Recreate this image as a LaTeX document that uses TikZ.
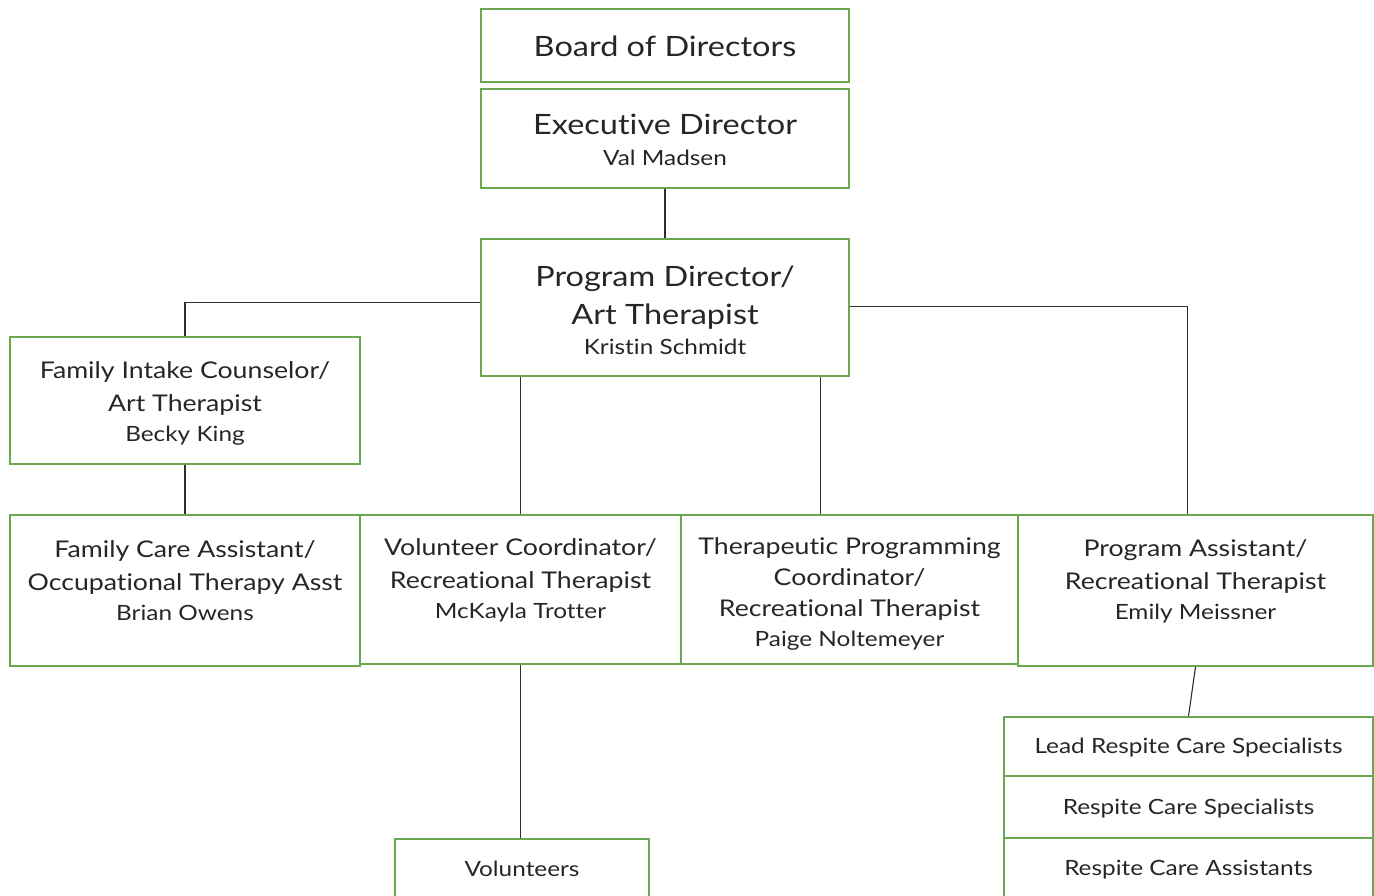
\documentclass[tikz,border=0pt]{standalone}
\usepackage{fontspec}
\setmainfont{Lato}[FakeStretch=1.16, Ligatures={NoCommon}]
\definecolor{boxgreen}{RGB}{106,168,79}
\definecolor{linegray}{RGB}{45,45,45}
\newcommand\bigtxt{\fontsize{28}{38}\selectfont}
\newcommand\midtxt{\fontsize{23}{33}\selectfont}
\newcommand\smalltxt{\fontsize{21}{30}\selectfont}

\tikzset{
  every node/.style={text=black!85, align=center, inner sep=0pt},
  box/.style={draw=boxgreen, line width=1.6pt},
  link/.style={draw=linegray, line width=1.1pt}
}

\begin{document}
\begin{tikzpicture}[x=1pt,y=-1pt]
      \useasboundingbox (0,0) rectangle (1374,896);
      \clip (0,0) rectangle (1374,896);

      % boxes
      \node [box, minimum width=368, minimum height=73] (board) at (665,45.5) {};
      \node [box, minimum width=368, minimum height=99] (exec) at (665,138.5) {};
      \node [box, minimum width=368, minimum height=137] (prog) at (665,307.5) {};
      \node [box, minimum width=350, minimum height=127] (intake) at (185,400.5) {};
      \node [box, minimum width=350, minimum height=151] (famcare) at (185,590.5) {};
      \node [box, minimum width=321, minimum height=149] (volco) at (520.5,589.5) {};
      \node [box, minimum width=337, minimum height=149] (thera) at (849.5,589.5) {};
      \node [box, minimum width=355, minimum height=151] (progas) at (1195.5,590.5) {};
      \node [box, minimum width=254, minimum height=61] (vols) at (522,869.5) {};
      \node [box, minimum width=369, minimum height=59] (lead) at (1188.5,746.5) {};
      \node [box, minimum width=369, minimum height=62] (spec) at (1188.5,807) {};
      \node [box, minimum width=369, minimum height=62] (assist) at (1188.5,869) {};

      % texts
      \node [font=\bigtxt] (boardT) at (665,46) {Board of Directors};
      \node [font=\bigtxt] (execT) at (665,140) {Executive Director\\[-7pt] \smalltxt Val Madsen};
      \node [font=\bigtxt] (progT) at (665,310.5) {Program Director/\\ Art Therapist\\[-8pt] \smalltxt Kristin Schmidt};
      \node [font=\midtxt] (intakeT) at (185,403) {Family Intake Counselor/\\ Art Therapist\\[-3pt] \smalltxt Becky King};
      \node [font=\midtxt] (famcareT) at (185,580.5) {Family Care Assistant/\\ Occupational Therapy Asst\\[-3pt] \smalltxt Brian Owens};
      \node [font=\midtxt] (volcoT) at (520.5,580.5) {Volunteer Coordinator/\\ Recreational Therapist\\[-3pt] \smalltxt McKayla Trotter};
      \node [font=\midtxt] (theraT) at (849.5,594) {Therapeutic Programming\\[-2pt] Coordinator/\\[-2pt] Recreational Therapist\\[-3pt] \smalltxt Paige Noltemeyer};
      \node [font=\midtxt] (progasT) at (1195.5,581) {Program Assistant/\\ Recreational Therapist\\[-3pt] \smalltxt Emily Meissner};
      \node [font=\smalltxt] (volsT) at (522,869) {Volunteers};
      \node [font=\smalltxt] (leadT) at (1188.5,748) {Lead Respite Care Specialists};
      \node [font=\smalltxt] (specT) at (1188.5,808.5) {Respite Care Specialists};
      \node [font=\smalltxt] (assistT) at (1188.5,869.5) {Respite Care Assistants};

      % connectors
      \draw [link] (exec.south) -- (prog.north);
      \draw [link] ([yshift=5]prog.west) -| (intake.north);
      \draw [link] ([yshift=1]prog.east) -| ([xshift=-8]progas.north);
      \draw [link] (prog.south -| volco.north) -- (volco.north);
      \draw [link] ([xshift=-29]prog.south east) -- ([xshift=-29]prog.south east |- thera.north);
      \draw [link] (intake) -- (famcare);
      \draw [link] (volco.south) -- (volco.south |- vols.north);
      \draw [link] (progas.south) -- (lead.north);
    \end{tikzpicture}
\end{document}
